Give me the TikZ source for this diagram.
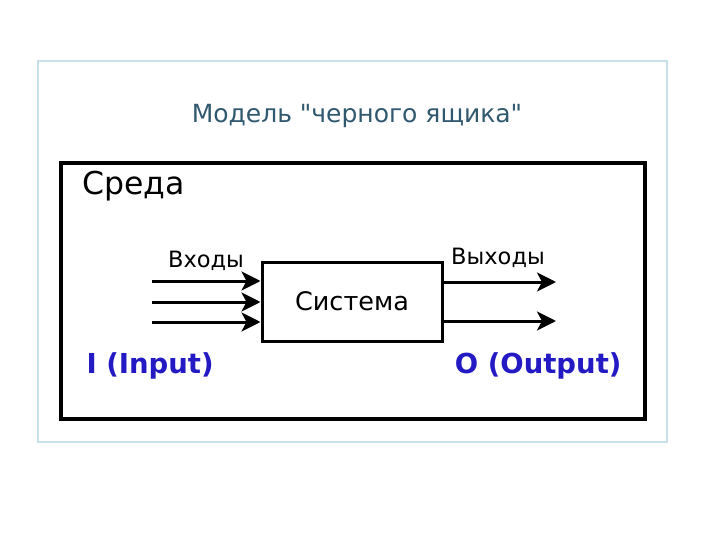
\documentclass[tikz,border=0pt]{standalone}
\usepackage{fontspec}
\setmainfont{DejaVu Sans}
\newfontfamily\titlefont{DejaVu Sans}
\usetikzlibrary{arrows.meta, positioning}
\definecolor{frameblue}{RGB}{200,224,236}
\definecolor{titleblue}{RGB}{48,88,110}
\definecolor{ioblue}{RGB}{36,26,196}

\begin{document}
\begin{tikzpicture}[
        x=1pt, y=-1pt,
        % Define Styles
        framebox/.style={draw=frameblue, line width=1.5pt},
        envbox/.style={draw=black, line width=3.5pt},
        sysbox/.style={rectangle, draw=black, line width=3pt, minimum width=180pt, minimum height=79pt, font=\fontsize{25.5}{29}\selectfont},
        flow/.style={line width=3pt, -{Stealth[length=19pt, width=19pt, inset=5pt]}},
        flowlabel/.style={font=\fontsize{22.5}{26}\selectfont},
        iolabel/.style={font=\fontsize{27.5}{31}\selectfont\bfseries, text=ioblue}
    ]
    \useasboundingbox (0,0) rectangle (720,540);

    % --- SLIDE FRAME AND TITLE ---
    \draw[framebox] (38,61) rectangle (667,442);
    \node[font=\titlefont\fontsize{25}{29}\selectfont, text=titleblue] (title) at (357,116) {Модель "черного ящика"};

    % --- ENVIRONMENT ---
    \draw[envbox] (61,163) rectangle (645,419);
    \node[font=\fontsize{31.5}{35}\selectfont, anchor=west] (env) at (79,186) {Среда};

    % --- SYSTEM BOX ---
    \node[sysbox] (sys) at (352,301.5) {Система};

    % --- INPUTS ---
    \foreach \i/\y in {1/281, 2/302, 3/322} {
        \coordinate (in\i) at (152,\y);
        \draw[flow] (in\i) -- (sys.west |- in\i);
    }
    \node[flowlabel] (inlabel) at (206,261) {Входы};

    % --- OUTPUTS ---
    \foreach \i/\y in {1/282, 2/321} {
        \coordinate (out\i) at (556,\y);
        \draw[flow] (sys.east |- out\i) -- (out\i);
    }
    \node[flowlabel] (outlabel) at (498,258) {Выходы};

    % --- I/O LABELS ---
    \node[iolabel, anchor=west] (input) at (83,366) {I (Input)};
    \node[iolabel, anchor=east] (output) at (625,366) {O (Output)};

\end{tikzpicture}
\end{document}
